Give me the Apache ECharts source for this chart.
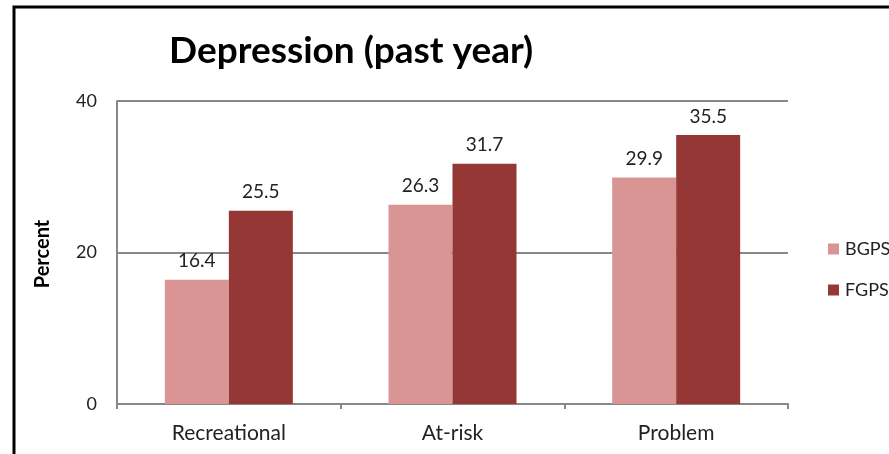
<!DOCTYPE html>
<html><head><meta charset="utf-8">
<script src="https://cdn.jsdelivr.net/npm/echarts@6/dist/echarts.min.js"></script>
<style>html,body{margin:0;padding:0;background:#fff}#c{width:889px;height:454px}</style>
</head><body><div id="c"></div>
<script>
const categories = ['Recreational', 'At-risk', 'Problem'];
const bgps = [16.4, 26.3, 29.9];
const fgps = [25.5, 31.7, 35.5];
const seriesNames = ['BGPS', 'FGPS'];
const yTicks = [0, 20, 40];

const chart = echarts.init(document.getElementById('c'));
const font = 'Lato, "Open Sans", sans-serif';
const lbl = {show: true, position: 'top', color: '#222', fontSize: 19, fontFamily: font, distance: 9};
chart.setOption({
  animation: false,
  title: {text: 'Depression (past year)', left: 164, top: 28,
    textStyle: {fontFamily: font, fontWeight: 'bold', fontSize: 37, color: '#000'}},
  graphic: [
    {type: 'rect', shape: {x: 14, y: 7, width: 1000, height: 1000},
      style: {fill: 'none', stroke: '#000', lineWidth: 3}, silent: true, z: 100},
    {type: 'text', x: 43, y: 254, rotation: Math.PI / 2,
      style: {text: 'Percent', fontFamily: font, fontWeight: 'bold', fontSize: 20, fill: '#000',
        align: 'center', verticalAlign: 'middle'}}
  ],
  legend: {orient: 'vertical', left: 823, top: 235, itemWidth: 11, itemHeight: 11, itemGap: 23,
    icon: 'rect', data: seriesNames,
    textStyle: {fontFamily: font, fontSize: 18, color: '#222', padding: [0,0,0,1]}},
  grid: {left: 117, right: 101, top: 101, bottom: 50, containLabel: false},
  xAxis: {type: 'category', data: categories,
    axisLine: {lineStyle: {color: '#888', width: 2}},
    axisTick: {show: true, length: 5, lineStyle: {color: '#888', width: 2}},
    axisLabel: {fontFamily: font, fontSize: 21, color: '#222', margin: 19}},
  yAxis: {type: 'value', min: yTicks[0], max: yTicks[yTicks.length-1], interval: 20,
    axisLine: {show: true, lineStyle: {color: '#888', width: 2}},
    axisTick: {show: false},
    splitLine: {lineStyle: {color: '#888', width: 2}},
    axisLabel: {fontFamily: font, fontSize: 18, color: '#222', margin: 20}},
  series: [
    {name: seriesNames[0], type: 'bar', data: bgps, barWidth: 64, barGap: '0%',
     itemStyle: {color: '#D99594'}, label: lbl},
    {name: seriesNames[1], type: 'bar', data: fgps, barWidth: 64, barGap: '0%',
     itemStyle: {color: '#953735'}, label: lbl}
  ]
});
</script></body></html>
